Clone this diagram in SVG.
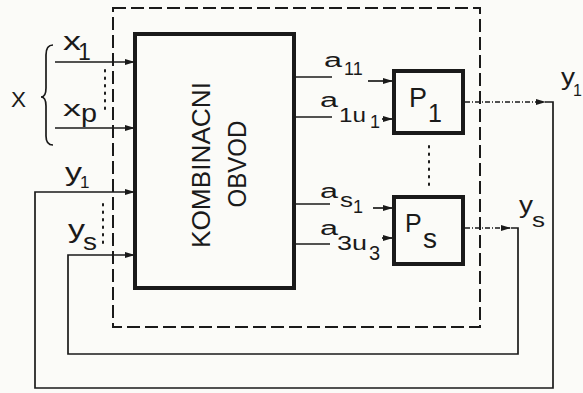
<svg xmlns="http://www.w3.org/2000/svg" width="583" height="393" viewBox="0 0 583 393">
<defs>
<marker id="ah" markerUnits="userSpaceOnUse" markerWidth="11" markerHeight="7" refX="10" refY="3.5" orient="auto"><path d="M0,0.5 L10,3.5 L0,6.5 z" fill="#1a1a1a"/></marker>
</defs>
<style>
.bg{fill:#fbfbf8}
.ln{fill:none;stroke:#1a1a1a;stroke-width:1.7}
.dl{fill:none;stroke:#1a1a1a;stroke-width:1.5;stroke-dasharray:5 2 1 2}
.dash{fill:none;stroke:#1a1a1a;stroke-width:2;stroke-dasharray:13 5}
.dots{fill:none;stroke:#1a1a1a;stroke-width:2;stroke-dasharray:1.5 6;stroke-linecap:round}
.box{fill:none;stroke:#1a1a1a;stroke-width:4}
.t{font-family:"Liberation Sans",Arial,sans-serif;fill:#1a1a1a}
</style>
<rect class="bg" x="0" y="0" width="583" height="393"/>
<rect class="dash" x="113" y="8" width="367" height="319"/>
<g id="kombinacni-obvod">
<rect class="box" x="135" y="34" width="159" height="254"/>
<text class="t" font-size="26" text-anchor="middle" transform="translate(210,165) rotate(-90)" textLength="166" lengthAdjust="spacingAndGlyphs">KOMBINACNI</text>
<text class="t" font-size="26" text-anchor="middle" transform="translate(246,164) rotate(-90)" textLength="87" lengthAdjust="spacingAndGlyphs">OBVOD</text>
</g>
<g id="P1">
<rect class="box" x="394" y="71" width="69" height="62"/>
<text class="t" font-size="27" x="409" y="107">P</text>
<text class="t" font-size="25" x="428" y="122">1</text>
</g>
<g id="Ps">
<rect class="box" x="394" y="197" width="69" height="67"/>
<text class="t" font-size="25" x="405" y="232">P</text>
<text class="t" font-size="27" x="423" y="248" textLength="14" lengthAdjust="spacingAndGlyphs">s</text>
</g>
<g id="X-inputs">
<path class="ln" d="M53,45 Q46,45 46,55 L46,88 Q46,97 41,97 Q46,97 46,106 L46,136 Q46,145 53,145"/>
<text class="t" font-size="22" x="11" y="107" textLength="15" lengthAdjust="spacingAndGlyphs">X</text>
<text class="t" font-size="25" x="63" y="50" textLength="18" lengthAdjust="spacingAndGlyphs">x</text>
<text class="t" font-size="23" x="78" y="60">1</text>
<text class="t" font-size="22" x="63" y="116" textLength="18" lengthAdjust="spacingAndGlyphs">x</text>
<text class="t" font-size="25" x="81" y="122" textLength="16" lengthAdjust="spacingAndGlyphs">p</text>
</g>
<g id="labels">
<text class="t" font-size="26" x="65" y="181" textLength="17" lengthAdjust="spacingAndGlyphs">y</text>
<text class="t" font-size="17" x="80" y="188">1</text>
<text class="t" font-size="26" x="68" y="238" textLength="17" lengthAdjust="spacingAndGlyphs">y</text>
<text class="t" font-size="24" x="83" y="250" textLength="14" lengthAdjust="spacingAndGlyphs">s</text>
<text class="t" font-size="20" x="324" y="67" textLength="18" lengthAdjust="spacingAndGlyphs">a</text>
<text class="t" font-size="18" x="344" y="75">11</text>
<text class="t" font-size="20" x="320" y="107" textLength="18" lengthAdjust="spacingAndGlyphs">a</text>
<text class="t" font-size="20" x="339" y="122" textLength="27" lengthAdjust="spacingAndGlyphs">1u</text>
<text class="t" font-size="18" x="370" y="128">1</text>
<text class="t" font-size="20" x="320" y="198" textLength="18" lengthAdjust="spacingAndGlyphs">a</text>
<text class="t" font-size="20" x="340" y="207" textLength="13" lengthAdjust="spacingAndGlyphs">s</text>
<text class="t" font-size="18" x="353" y="213">1</text>
<text class="t" font-size="20" x="320" y="235" textLength="18" lengthAdjust="spacingAndGlyphs">a</text>
<text class="t" font-size="21" x="337" y="250" textLength="30" lengthAdjust="spacingAndGlyphs">3u</text>
<text class="t" font-size="20" x="369" y="260">3</text>
<text class="t" font-size="24" x="561" y="85" textLength="14" lengthAdjust="spacingAndGlyphs">y</text>
<text class="t" font-size="16" x="573" y="96">1</text>
<text class="t" font-size="24" x="519" y="213" textLength="14" lengthAdjust="spacingAndGlyphs">y</text>
<text class="t" font-size="21" x="532" y="227" textLength="13" lengthAdjust="spacingAndGlyphs">s</text>
</g>
<g id="connectors">
<line class="ln" x1="55" y1="62" x2="135" y2="62" marker-end="url(#ah)"/>
<line class="ln" x1="55" y1="128" x2="135" y2="128" marker-end="url(#ah)"/>
<line class="dots" x1="105" y1="70" x2="105" y2="115"/>
<line class="dots" x1="103" y1="204" x2="103" y2="244"/>
<line class="dots" x1="429" y1="146" x2="429" y2="190"/>
<line class="ln" x1="296" y1="77" x2="332" y2="77"/>
<line class="ln" x1="368" y1="81" x2="393" y2="81" marker-end="url(#ah)"/>
<line class="ln" x1="296" y1="117" x2="332" y2="117"/>
<line class="ln" x1="382" y1="119" x2="393" y2="119" marker-end="url(#ah)"/>
<line class="ln" x1="296" y1="204" x2="330" y2="204"/>
<line class="ln" x1="373" y1="208" x2="393" y2="208" marker-end="url(#ah)"/>
<line class="ln" x1="296" y1="244" x2="330" y2="244"/>
<line class="ln" x1="382" y1="238" x2="393" y2="238" marker-end="url(#ah)"/>
<line class="dl" x1="465" y1="102" x2="546" y2="102" marker-end="url(#ah)"/>
<path class="ln" d="M546,102 H553 V388 H35 V192 H135" marker-end="url(#ah)"/>
<line class="dl" x1="465" y1="228" x2="511" y2="228" marker-end="url(#ah)"/>
<path class="ln" d="M511,228 H518 V354 H68 V255 H135" marker-end="url(#ah)"/>
</g>
</svg>
